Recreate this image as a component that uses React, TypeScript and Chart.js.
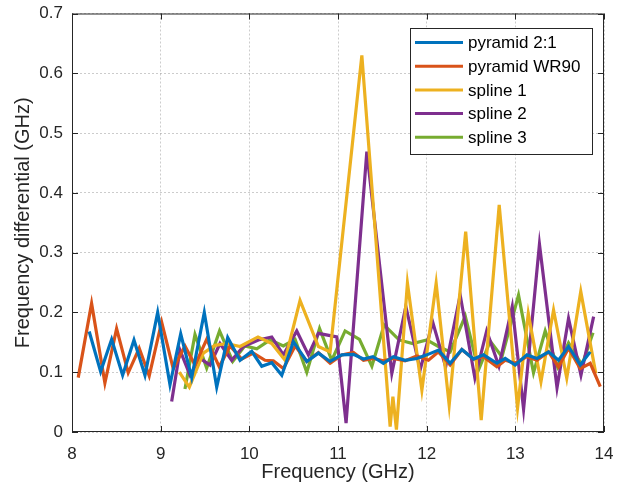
import React, { useEffect, useRef } from "react";
import { Chart, registerables } from "chart.js";

Chart.register(...registerables);

// ---------- data ----------
const seriesNames = ["pyramid 2:1", "pyramid WR90", "spline 1", "spline 2", "spline 3"];
const seriesColors = ["#0072BD", "#D95319", "#EDB120", "#7E2F8E", "#77AC30"];

const xTickLabels = ["8", "9", "10", "11", "12", "13", "14"];
const yTickLabels = ["0", "0.1", "0.2", "0.3", "0.4", "0.5", "0.6", "0.7"];

const pyr21Freq = [8.194, 8.323, 8.447, 8.571, 8.699, 8.823, 8.966, 9.105, 9.226, 9.35, 9.492, 9.632, 9.756, 9.895, 10.027, 10.14, 10.253, 10.366, 10.497, 10.648, 10.779, 10.911, 11.043, 11.174, 11.287, 11.393, 11.512, 11.625, 11.757, 11.889, 12.002, 12.133, 12.265, 12.397, 12.528, 12.641, 12.792, 12.886, 12.998, 13.131, 13.244, 13.375, 13.487, 13.6, 13.732, 13.845];
const pyr21Diff = [0.168, 0.101, 0.155, 0.095, 0.154, 0.095, 0.2, 0.079, 0.164, 0.091, 0.2, 0.075, 0.158, 0.12, 0.135, 0.11, 0.116, 0.095, 0.151, 0.118, 0.132, 0.118, 0.129, 0.13, 0.122, 0.126, 0.115, 0.126, 0.12, 0.123, 0.129, 0.137, 0.115, 0.138, 0.122, 0.129, 0.115, 0.123, 0.112, 0.129, 0.123, 0.134, 0.12, 0.143, 0.112, 0.134];

const wr90Freq = [8.07, 8.221, 8.371, 8.503, 8.634, 8.758, 8.871, 9.011, 9.142, 9.274, 9.387, 9.519, 9.661, 9.782, 9.914, 10.045, 10.177, 10.271, 10.384, 10.516, 10.648, 10.779, 10.911, 11.043, 11.174, 11.287, 11.4, 11.512, 11.625, 11.757, 11.889, 12.02, 12.133, 12.265, 12.397, 12.528, 12.641, 12.792, 12.886, 12.998, 13.131, 13.244, 13.375, 13.487, 13.6, 13.732, 13.845, 13.958];
const wr90Diff = [0.091, 0.215, 0.082, 0.173, 0.099, 0.14, 0.094, 0.184, 0.106, 0.144, 0.112, 0.155, 0.109, 0.144, 0.122, 0.132, 0.12, 0.119, 0.106, 0.144, 0.118, 0.133, 0.115, 0.129, 0.133, 0.12, 0.123, 0.119, 0.123, 0.119, 0.127, 0.12, 0.134, 0.112, 0.138, 0.122, 0.126, 0.109, 0.12, 0.115, 0.126, 0.12, 0.134, 0.109, 0.14, 0.106, 0.115, 0.076];

const spline1Freq = [9.21, 9.323, 9.481, 9.613, 9.748, 9.895, 10.098, 10.253, 10.403, 10.572, 10.779, 10.911, 11.269, 11.588, 11.619, 11.659, 11.783, 11.946, 12.107, 12.254, 12.44, 12.615, 12.818, 13.025, 13.146, 13.289, 13.431, 13.58, 13.738, 13.907];
const spline1Diff = [0.1, 0.075, 0.132, 0.145, 0.148, 0.143, 0.159, 0.148, 0.12, 0.22, 0.143, 0.134, 0.63, 0.009, 0.059, 0.004, 0.249, 0.07, 0.249, 0.045, 0.335, 0.02, 0.38, 0.04, 0.198, 0.084, 0.204, 0.09, 0.235, 0.098];

const spline2Freq = [9.124, 9.218, 9.331, 9.444, 9.557, 9.669, 9.801, 9.932, 10.102, 10.253, 10.384, 10.535, 10.666, 10.779, 10.986, 11.091, 11.325, 11.607, 11.765, 11.927, 12.068, 12.214, 12.378, 12.544, 12.677, 12.815, 12.965, 13.093, 13.272, 13.47, 13.6, 13.74, 13.883];
const spline2Diff = [0.051, 0.137, 0.095, 0.123, 0.112, 0.148, 0.12, 0.143, 0.154, 0.159, 0.129, 0.169, 0.129, 0.165, 0.159, 0.015, 0.469, 0.098, 0.21, 0.104, 0.184, 0.109, 0.229, 0.09, 0.169, 0.11, 0.21, 0.038, 0.314, 0.074, 0.19, 0.095, 0.193];

const spline3Freq = [9.274, 9.387, 9.519, 9.664, 9.813, 9.948, 10.084, 10.234, 10.384, 10.516, 10.648, 10.792, 10.93, 11.08, 11.242, 11.382, 11.52, 11.689, 11.842, 12.002, 12.133, 12.265, 12.435, 12.585, 12.717, 12.849, 13.036, 13.205, 13.337, 13.476, 13.6, 13.752, 13.876];
const spline3Diff = [0.072, 0.163, 0.107, 0.169, 0.118, 0.144, 0.139, 0.154, 0.144, 0.155, 0.1, 0.173, 0.12, 0.169, 0.155, 0.11, 0.179, 0.154, 0.148, 0.154, 0.143, 0.134, 0.194, 0.104, 0.152, 0.126, 0.229, 0.099, 0.169, 0.109, 0.149, 0.112, 0.166];

const seriesFreq = [pyr21Freq, wr90Freq, spline1Freq, spline2Freq, spline3Freq];
const seriesDiff = [pyr21Diff, wr90Diff, spline1Diff, spline2Diff, spline3Diff];

// ---------- styling ----------
const FONT = '"Liberation Sans", Arial, Helvetica, sans-serif';
const AXIS_COLOR = "#262626";

const frameAndLegend = {
  id: "frameAndLegend",
  afterDatasetsDraw(chart: any) {
    const { ctx, chartArea: a, scales } = chart;
    ctx.save();
    // box
    ctx.strokeStyle = AXIS_COLOR;
    ctx.lineWidth = 1;
    ctx.strokeRect(a.left + 0.5, a.top + 0.5, a.right - a.left - 1, a.bottom - a.top - 1);
    // inward ticks
    const tl = 6;
    ctx.beginPath();
    scales.x.ticks.forEach((t: any) => {
      const px = Math.round(scales.x.getPixelForValue(t.value)) + 0.5;
      ctx.moveTo(px, a.bottom);
      ctx.lineTo(px, a.bottom - tl);
      ctx.moveTo(px, a.top);
      ctx.lineTo(px, a.top + tl);
    });
    scales.y.ticks.forEach((t: any) => {
      const py = Math.round(scales.y.getPixelForValue(t.value)) + 0.5;
      ctx.moveTo(a.left, py);
      ctx.lineTo(a.left + tl, py);
      ctx.moveTo(a.right, py);
      ctx.lineTo(a.right - tl, py);
    });
    ctx.stroke();

    // legend
    const boxRight = a.right - 12;
    const boxTop = a.top + 14;
    const boxW = 182;
    const rowH = 23.7;
    const boxH = 126;
    const boxLeft = boxRight - boxW;
    ctx.fillStyle = "#ffffff";
    ctx.fillRect(boxLeft, boxTop, boxW, boxH);
    ctx.strokeStyle = AXIS_COLOR;
    ctx.lineWidth = 1;
    ctx.strokeRect(Math.round(boxLeft) + 0.5, Math.round(boxTop) + 0.5, boxW, boxH);
    ctx.font = `17px ${FONT}`;
    ctx.textBaseline = "middle";
    ctx.textAlign = "left";
    chart.data.datasets.forEach((ds: any, i: number) => {
      const y = boxTop + 15 + i * rowH;
      ctx.strokeStyle = ds.borderColor;
      ctx.lineWidth = 3;
      ctx.beginPath();
      ctx.moveTo(boxLeft + 5, y);
      ctx.lineTo(boxLeft + 53, y);
      ctx.stroke();
      ctx.fillStyle = "#000000";
      ctx.fillText(ds.label, boxLeft + 58, y + 1);
    });
    ctx.restore();
  },
};

export default function App() {
  const canvasRef = useRef<HTMLCanvasElement | null>(null);

  useEffect(() => {
    if (!canvasRef.current) return;
    const datasets = seriesNames.map((name, i) => ({
      label: name,
      data: seriesFreq[i].map((f, j) => ({ x: f, y: seriesDiff[i][j] })),
      borderColor: seriesColors[i],
      backgroundColor: seriesColors[i],
      borderWidth: 3.2,
      pointRadius: 0,
      tension: 0,
      fill: false,
    }));

    const chart = new Chart(canvasRef.current, {
      type: "line",
      data: { datasets },
      options: {
        animation: false,
        responsive: false,
        devicePixelRatio: 1,
        layout: { padding: { left: 0, right: 20, top: 13.5, bottom: 0 } },
        plugins: { legend: { display: false }, tooltip: { enabled: false } },
        scales: {
          x: {
            type: "linear",
            min: 8,
            max: 14,
            afterFit: (s: any) => {
              s.height = 60;
              s.paddingLeft = 0;
              s.paddingRight = 0;
            },
            ticks: {
              stepSize: 1,
              padding: 12,
              color: AXIS_COLOR,
              font: { family: FONT, size: 17 },
              callback: (v: any) => xTickLabels[Math.round(Number(v) - 8)] ?? "",
            },
            grid: { color: "rgba(0,0,0,0.2)", lineWidth: 1, drawTicks: false },
            border: { display: false, dash: [2, 2] },
            title: {
              display: true,
              text: "Frequency (GHz)",
              color: AXIS_COLOR,
              font: { family: FONT, size: 20 },
              padding: { top: 0, bottom: 8 },
            },
          },
          y: {
            type: "linear",
            min: 0,
            max: 0.7,
            afterFit: (s: any) => {
              s.width = 72;
              s.paddingTop = 0;
              s.paddingBottom = 0;
            },
            ticks: {
              stepSize: 0.1,
              padding: 9,
              color: AXIS_COLOR,
              font: { family: FONT, size: 17 },
              callback: (v: any) => yTickLabels[Math.round(Number(v) * 10)] ?? "",
            },
            grid: { color: "rgba(0,0,0,0.2)", lineWidth: 1, drawTicks: false },
            border: { display: false, dash: [2, 2] },
            title: {
              display: true,
              text: "Frequency differential (GHz)",
              color: AXIS_COLOR,
              font: { family: FONT, size: 20 },
              padding: { top: 11, bottom: 0 },
            },
          },
        },
      },
      plugins: [frameAndLegend],
    });
    return () => chart.destroy();
  }, []);

  return (
    <div style={{ position: "fixed", left: 0, top: 0, width: 624, height: 492, background: "#fff" }}>
      <canvas ref={canvasRef} width={624} height={492} />
    </div>
  );
}
